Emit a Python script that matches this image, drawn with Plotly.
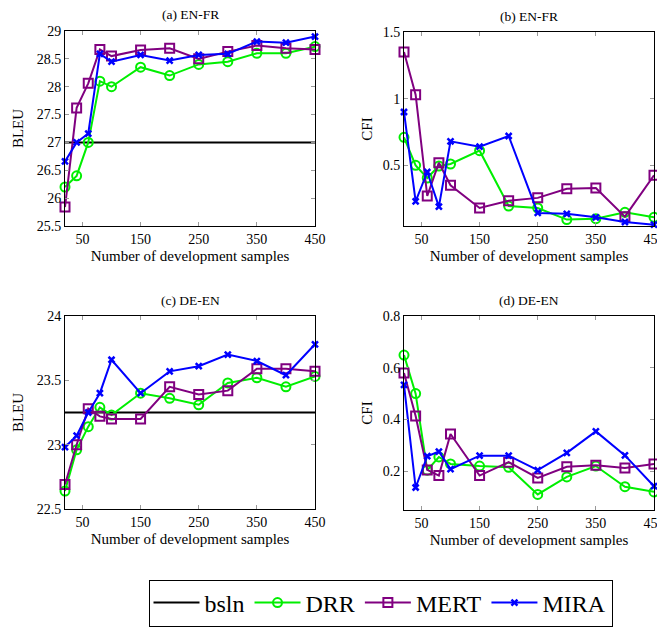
import plotly.graph_objects as go

samples = [20, 40, 60, 80, 100, 150, 200, 250, 300, 350, 400, 450]

# (a) EN-FR BLEU
a_bsln = 27.0
a_drr = [26.2, 26.4, 27.0, 28.1, 28.0, 28.35, 28.2, 28.4, 28.45, 28.6, 28.6, 28.72]
a_mert = [25.84, 27.62, 28.06, 28.67, 28.55, 28.66, 28.69, 28.5, 28.63, 28.74, 28.69, 28.67]
a_mira = [26.66, 27.0, 27.16, 28.59, 28.45, 28.57, 28.47, 28.57, 28.59, 28.81, 28.79, 28.9]

# (b) EN-FR CFI
b_drr = [0.71, 0.5, 0.405, 0.495, 0.51, 0.61, 0.195, 0.18, 0.093, 0.10, 0.148, 0.11]
b_mert = [1.35, 1.03, 0.27, 0.52, 0.35, 0.18, 0.234, 0.256, 0.324, 0.33, 0.115, 0.425]
b_mira = [0.9, 0.23, 0.45, 0.19, 0.68, 0.64, 0.72, 0.143, 0.136, 0.11, 0.075, 0.055]

# (c) DE-EN BLEU
c_bsln = 23.25
c_drr = [22.64, 22.96, 23.14, 23.29, 23.23, 23.40, 23.36, 23.31, 23.48, 23.52, 23.45, 23.53]
c_mert = [22.69, 23.0, 23.28, 23.22, 23.2, 23.2, 23.45, 23.39, 23.42, 23.59, 23.59, 23.57]
c_mira = [22.98, 23.07, 23.25, 23.40, 23.66, 23.40, 23.57, 23.61, 23.70, 23.65, 23.54, 23.78]

# (d) DE-EN CFI
d_drr = [0.649, 0.5, 0.204, 0.255, 0.228, 0.22, 0.215, 0.11, 0.178, 0.22, 0.14, 0.12]
d_mert = [0.58, 0.413, 0.205, 0.183, 0.344, 0.183, 0.235, 0.174, 0.217, 0.223, 0.212, 0.228]
d_mira = [0.534, 0.137, 0.258, 0.276, 0.208, 0.26, 0.26, 0.204, 0.271, 0.354, 0.261, 0.142]

titles = ["(a) EN-FR", "(b) EN-FR", "(c) DE-EN", "(d) DE-EN"]
y_titles = ["BLEU", "CFI", "BLEU", "CFI"]
x_ticks = [50, 150, 250, 350, 450]
y_ticks = [
    [25.5, 26, 26.5, 27, 27.5, 28, 28.5, 29],
    [0.5, 1, 1.5],
    [22.5, 23, 23.5, 24],
    [0.2, 0.4, 0.6, 0.8],
]
y_ranges = [[25.5, 29], [0.045, 1.5], [22.5, 24], [0.05, 0.8]]

FONT = "Liberation Serif"
OFF = 8  # page body margin offset
W, H = 665 - OFF, 628 - OFF
GREEN = "#00ee00"
PURPLE = "#800080"
BLUE = "#0000ff"

# panel boxes in screen pixels (left, right, top, bottom)
boxes = [(65, 315, 31, 226), (404, 654, 32, 226), (65, 315, 316, 509), (404, 654, 316, 510)]
y_standoffs = [9, 6, 9, 6]


def px(x):
    return (x - OFF) / W


def py(y):
    return 1 - (y - OFF) / H


fig = go.Figure()

panels = [
    (a_bsln, a_drr, a_mert, a_mira),
    (None, b_drr, b_mert, b_mira),
    (c_bsln, c_drr, c_mert, c_mira),
    (None, d_drr, d_mert, d_mira),
]

for i, (bsln, drr, mert, mira) in enumerate(panels):
    xa = "x" if i == 0 else f"x{i+1}"
    ya = "y" if i == 0 else f"y{i+1}"
    first = i == 0
    if bsln is not None:
        fig.add_trace(go.Scatter(x=[samples[0], samples[-1]], y=[bsln, bsln], mode="lines",
                                 line=dict(color="black", width=2), name="bsln",
                                 legendgroup="bsln", showlegend=first, xaxis=xa, yaxis=ya,
                                 cliponaxis=False))
    fig.add_trace(go.Scatter(x=samples, y=drr, mode="lines+markers", name="DRR",
                             line=dict(color=GREEN, width=2),
                             marker=dict(symbol="circle-open", size=9, color=GREEN, line=dict(width=2)),
                             legendgroup="DRR", showlegend=first, xaxis=xa, yaxis=ya, cliponaxis=False))
    fig.add_trace(go.Scatter(x=samples, y=mert, mode="lines+markers", name="MERT",
                             line=dict(color=PURPLE, width=2),
                             marker=dict(symbol="square-open", size=9, color=PURPLE, line=dict(width=2)),
                             legendgroup="MERT", showlegend=first, xaxis=xa, yaxis=ya, cliponaxis=False))
    fig.add_trace(go.Scatter(x=samples, y=mira, mode="lines+markers", name="MIRA",
                             line=dict(color=BLUE, width=2),
                             marker=dict(symbol="x-thin-open", size=6, color=BLUE, line=dict(width=2.5, color=BLUE)),
                             legendgroup="MIRA", showlegend=first, xaxis=xa, yaxis=ya, cliponaxis=False))

layout = dict(
    width=W, height=H,
    template="none",
    margin=dict(l=0, r=0, t=0, b=0, pad=0),
    paper_bgcolor="white", plot_bgcolor="white",
    font=dict(family=FONT, size=13, color="black"),
    showlegend=True,
    legend=dict(orientation="h", x=px(380.5), y=py(603), xanchor="center", yanchor="middle",
                bordercolor="black", borderwidth=1, font=dict(size=24, family=FONT, color="black"),
                itemwidth=46, tracegroupgap=0, bgcolor="white"),
)

annotations = []
for i, (l, r, t, b) in enumerate(boxes):
    xk = "xaxis" if i == 0 else f"xaxis{i+1}"
    yk = "yaxis" if i == 0 else f"yaxis{i+1}"
    ya_ref = "y" if i == 0 else f"y{i+1}"
    xa_ref = "x" if i == 0 else f"x{i+1}"
    axis_common = dict(showline=True, linecolor="black", linewidth=1, mirror="allticks",
                       ticks="inside", ticklen=4, tickcolor="#999", tickwidth=1, automargin=False,
                       showgrid=False, zeroline=False, tickfont=dict(size=14, family=FONT, color="black"))
    layout[xk] = dict(domain=[px(l), px(r)], anchor=ya_ref, range=[samples[0], samples[-1]],
                      tickmode="array", tickvals=x_ticks,
                      title=dict(text="Number of development samples",
                                 font=dict(size=15, family=FONT, color="black"), standoff=4),
                      **axis_common)
    layout[yk] = dict(domain=[py(b), py(t)], anchor=xa_ref, range=y_ranges[i],
                      tickmode="array", tickvals=y_ticks[i],
                      title=dict(text=y_titles[i], font=dict(size=15, family=FONT, color="black"),
                                 standoff=y_standoffs[i]),
                      **axis_common)
    annotations.append(dict(text=titles[i], x=px((l + r) / 2), y=py(t - 16),
                            xref="paper", yref="paper", showarrow=False,
                            xanchor="center", yanchor="middle",
                            font=dict(size=13.5, family=FONT, color="black")))

layout["annotations"] = annotations
fig.update_layout(**layout)
fig.write_html("out.html")
